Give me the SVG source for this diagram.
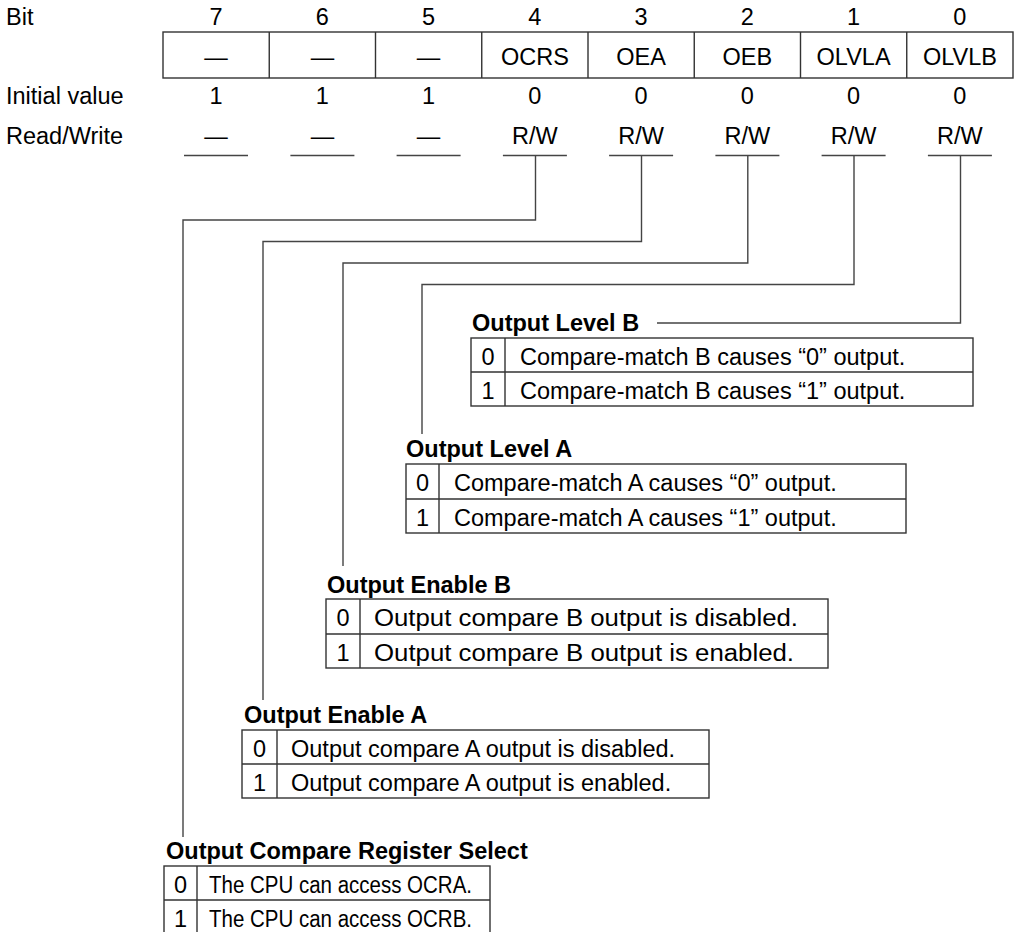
<svg xmlns="http://www.w3.org/2000/svg" width="1017" height="932" viewBox="0 0 1017 932">
<style>
text{font-family:"Liberation Sans",Arial,sans-serif;font-size:23.5px;fill:#000}
.c{text-anchor:middle}
.b{font-weight:bold}
.box{fill:none;stroke:#333;stroke-width:1.4}
.ln{fill:none;stroke:#444;stroke-width:1.4}
.conn{fill:none;stroke:#444;stroke-width:1.4}
</style>
<rect width="1017" height="932" fill="#fff"/>
<g id="register">
<text x="6" y="25">Bit</text>
<text x="6" y="104">Initial value</text>
<text x="6" y="144">Read/Write</text>
<g class="c">
<text x="216.1" y="25" class="c">7</text><text x="322.4" y="25" class="c">6</text><text x="428.6" y="25" class="c">5</text><text x="534.9" y="25" class="c">4</text><text x="641.1" y="25" class="c">3</text><text x="747.4" y="25" class="c">2</text><text x="853.6" y="25" class="c">1</text><text x="959.9" y="25" class="c">0</text>
</g>
<rect class="box" x="163" y="32" width="850" height="46"/>
<path class="box" d="M269.25 32V78M375.5 32V78M481.75 32V78M588 32V78M694.25 32V78M800.5 32V78M906.75 32V78"/>
<text x="216.1" y="64.5" class="c">—</text><text x="322.4" y="64.5" class="c">—</text><text x="428.6" y="64.5" class="c">—</text><text x="534.9" y="64.5" class="c">OCRS</text><text x="641.1" y="64.5" class="c">OEA</text><text x="747.4" y="64.5" class="c">OEB</text><text x="853.6" y="64.5" class="c">OLVLA</text><text x="959.9" y="64.5" class="c">OLVLB</text>
<text x="216.1" y="104" class="c">1</text><text x="322.4" y="104" class="c">1</text><text x="428.6" y="104" class="c">1</text><text x="534.9" y="104" class="c">0</text><text x="641.1" y="104" class="c">0</text><text x="747.4" y="104" class="c">0</text><text x="853.6" y="104" class="c">0</text><text x="959.9" y="104" class="c">0</text>
<text x="216.1" y="144" class="c">—</text><text x="322.4" y="144" class="c">—</text><text x="428.6" y="144" class="c">—</text><text x="534.9" y="144" class="c">R/W</text><text x="641.1" y="144" class="c">R/W</text><text x="747.4" y="144" class="c">R/W</text><text x="853.6" y="144" class="c">R/W</text><text x="959.9" y="144" class="c">R/W</text>
<path class="ln" d="M184 155.5H248M290.4 155.5H354.4M396.6 155.5H460.6M502.9 155.5H566.9M609.1 155.5H673.1M715.4 155.5H779.4M821.6 155.5H885.6M927.9 155.5H991.9"/>
</g>
<g id="connectors">
<path class="conn" d="M535.5 155.5V220H183V837"/>
<path class="conn" d="M641.5 155.5V241.5H263V700"/>
<path class="conn" d="M747.8 155.5V263H343V566"/>
<path class="conn" d="M854 155.5V284.5H422V434"/>
<path class="conn" d="M960.5 155.5V323H657"/>
</g>
<g id="olvlb">
<text x="472" y="331" class="b">Output Level B</text>
<rect class="box" x="471" y="338" width="502" height="68"/>
<path class="box" d="M505 338V406M471 372H973"/>
<text x="488" y="364.5" class="c">0</text><text x="520" y="364.5">Compare-match B causes “0” output.</text>
<text x="488" y="398.5" class="c">1</text><text x="520" y="398.5">Compare-match B causes “1” output.</text>
</g>
<g id="olvla">
<text x="406" y="457" class="b">Output Level A</text>
<rect class="box" x="406" y="464" width="500" height="69"/>
<path class="box" d="M439 464V533M406 499H906"/>
<text x="422.5" y="491" class="c">0</text><text x="454" y="491">Compare-match A causes “0” output.</text>
<text x="422.5" y="525.5" class="c">1</text><text x="454" y="525.5">Compare-match A causes “1” output.</text>
</g>
<g id="oeb">
<text x="327" y="593" class="b">Output Enable B</text>
<rect class="box" x="326" y="599" width="502" height="69"/>
<path class="box" d="M360 599V668M326 634H828"/>
<text x="343" y="626" class="c">0</text><text x="374" y="626" textLength="424" lengthAdjust="spacingAndGlyphs">Output compare B output is disabled.</text>
<text x="343" y="660.5" class="c">1</text><text x="374" y="660.5" textLength="420" lengthAdjust="spacingAndGlyphs">Output compare B output is enabled.</text>
</g>
<g id="oea">
<text x="244" y="723" class="b">Output Enable A</text>
<rect class="box" x="242" y="730" width="467" height="68"/>
<path class="box" d="M277 730V798M242 764H709"/>
<text x="259.5" y="756.5" class="c">0</text><text x="291" y="756.5">Output compare A output is disabled.</text>
<text x="259.5" y="790.5" class="c">1</text><text x="291" y="790.5">Output compare A output is enabled.</text>
</g>
<g id="ocrs">
<text x="166" y="859" class="b">Output Compare Register Select</text>
<rect class="box" x="164" y="866" width="326" height="68"/>
<path class="box" d="M197 866V934M164 900H490"/>
<text x="180.5" y="892.5" class="c">0</text><text x="209" y="892.5" textLength="263" lengthAdjust="spacingAndGlyphs">The CPU can access OCRA.</text>
<text x="180.5" y="926.5" class="c">1</text><text x="209" y="926.5" textLength="263" lengthAdjust="spacingAndGlyphs">The CPU can access OCRB.</text>
</g>
</svg>
